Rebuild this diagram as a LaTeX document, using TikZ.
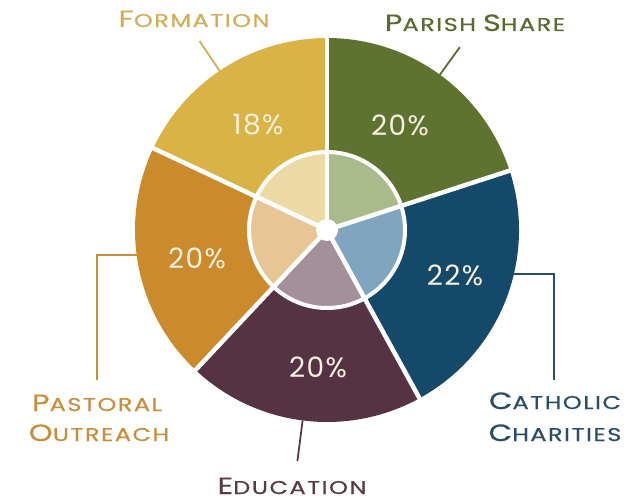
\documentclass[tikz,border=0pt]{standalone}
\usepackage{fontspec}
\usetikzlibrary{calc}
\setmainfont{Poppins}
\newfontfamily\labfont[LetterSpace=8,FakeStretch=1.3,FakeBold=0.6]{Poppins}
\newfontfamily\pctfont[LetterSpace=5]{Poppins}
\newcommand\bigc[1]{{\fontsize{23.5}{23.5}\selectfont #1}}
\newcommand\smc[1]{{\fontsize{18.5}{18.5}\selectfont #1}}
\definecolor{formC}{HTML}{D9B345}
\definecolor{formL}{HTML}{ECD9A5}
\definecolor{parC}{HTML}{5E7330}
\definecolor{parL}{HTML}{A9BA8B}
\definecolor{chaC}{HTML}{15496A}
\definecolor{chaL}{HTML}{7FA5BF}
\definecolor{eduC}{HTML}{553342}
\definecolor{eduL}{HTML}{A3909A}
\definecolor{pasC}{HTML}{CB8B2C}
\definecolor{pasL}{HTML}{E8C594}
\definecolor{formT}{HTML}{D4AE57}
\definecolor{parT}{HTML}{5B6B2F}
\definecolor{chaT}{HTML}{2A4E66}
\definecolor{eduT}{HTML}{5A3A48}
\definecolor{pasT}{HTML}{C98E3C}
\definecolor{pctT}{HTML}{F6F0DF}
\tikzset{
  divider/.style={white,line width=4.5pt,line cap=round},
  leader/.style={line width=1.8pt},
  lab/.style={inner sep=0pt,anchor=base,font=\labfont},
  pct/.style={inner sep=0pt,text=pctT,font=\pctfont\fontsize{28}{28}\selectfont},
}
\newcommand\slc[4]{\fill[#1] (C) -- ++(#2:#4) arc[start angle=#2,end angle=#3,radius=#4] -- cycle;}
\begin{document}
\begin{tikzpicture}[x=1pt,y=1pt]
\useasboundingbox (0,0) rectangle (628,501);
\coordinate (C) at (327,271);
% outer slices
\slc{formC}{90}{154.8}{192pt}
\slc{pasC}{154.8}{226.8}{192pt}
\slc{eduC}{226.8}{298.8}{192pt}
\slc{chaC}{298.8}{378}{192pt}
\slc{parC}{18}{90}{192pt}
% inner slices
\slc{formL}{90}{154.8}{78pt}
\slc{pasL}{154.8}{226.8}{78pt}
\slc{eduL}{226.8}{298.8}{78pt}
\slc{chaL}{298.8}{378}{78pt}
\slc{parL}{18}{90}{78pt}
\draw[white,line width=4pt] (C) circle[radius=78pt];
\foreach \a in {90,154.8,226.8,298.8,18}
  \draw[divider] (C) -- ++(\a:193pt);
\fill[white] (C) circle[radius=11pt];
% percentages
\node[pct] (p18) at (258,376) {18\%};
\node[pct] (p20a) at (400,376) {20\%};
\node[pct] (p22) at (455,226) {22\%};
\node[pct] (p20b) at (197,243) {20\%};
\node[pct] (p20c) at (318,134) {20\%};
% leader ends
\coordinate (formE) at ($(C)+(124:192pt)$);
\coordinate (formF) at ($(C)+(124:228pt)$);
\coordinate (parE) at ($(C)+(54:192pt)$);
\coordinate (parF) at ($(C)+(54:226pt)$);
\coordinate (eduE) at ($(C)+(262.7:192pt)$);
\coordinate (eduF) at ($(C)+(262.7:233pt)$);
\coordinate (chaE) at (513,227);
\coordinate (chaK) at (554,227);
\coordinate (chaF) at (554,121);
\coordinate (pasE) at (138,246);
\coordinate (pasK) at (97,246);
\coordinate (pasF) at (97,121);
% labels
\node[lab,text=formT] (form) at (194,474) {\bigc{F}\smc{ORMATION}};
\node[lab,text=parT] (par) at (475,470) {\bigc{P}\smc{ARISH}\hspace{7pt}\bigc{S}\smc{HARE}};
\node[lab,text=chaT] (cha1) at (555,92) {\bigc{C}\smc{ATHOLIC}};
\node[lab,text=chaT] (cha2) at (555,60) {\bigc{C}\smc{HARITIES}};
\node[lab,text=pasT] (pas1) at (97,90) {\bigc{P}\smc{ASTORAL}};
\node[lab,text=pasT] (pas2) at (99,60) {\bigc{O}\smc{UTREACH}};
\node[lab,text=eduT] (edu) at (292,7) {\bigc{E}\smc{DUCATION}};
% leaders
\draw[leader,formT] (formE) -- (formF);
\draw[leader,parT] (parE) -- (parF);
\draw[leader,eduT] (eduE) -- (eduF);
\draw[leader,chaT] (chaE) -- (chaK) -- (chaF);
\draw[leader,pasT] (pasE) -- (pasK) -- (pasF);
\end{tikzpicture}
\end{document}
